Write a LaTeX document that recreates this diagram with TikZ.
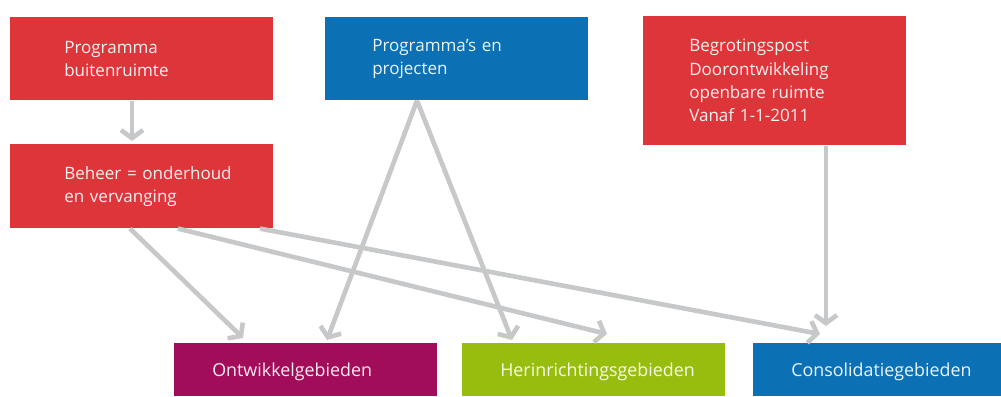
\documentclass[tikz,border=0pt]{standalone}
\usepackage{fontspec}
\setmainfont{Open Sans}
\usetikzlibrary{arrows.meta,calc}
\definecolor{cred}{HTML}{DE353B}
\definecolor{cblue}{HTML}{0C71B4}
\definecolor{cmag}{HTML}{A20D5A}
\definecolor{cgreen}{HTML}{97BE0E}
\definecolor{cgray}{HTML}{C7C8CA}
\tikzset{
  box/.style={anchor=north west, inner ysep=0pt, align=left, text=white, text opacity=0.92},
  topbox/.style={box, minimum width=6.575cm, font=\fontsize{12.1}{16.6}\selectfont},
  botbox/.style={box, minimum height=1.325cm, inner xsep=0.95cm, text depth=0pt,
    font=\fontsize{12.7}{16}\selectfont},
  arr/.style={draw=cgray, line width=3.3pt, line cap=butt,
    -{Straight Barb[length=0.2cm,width=0.55cm]}}
}
\begin{document}
\begin{tikzpicture}[x=0.025cm,y=-0.025cm]
\useasboundingbox (0,0) rectangle (1001,396);
% boxes
\node[topbox, fill=cred, minimum height=2.075cm, inner xsep=1.35cm, text width=3.875cm] (pb) at (10,17) {Programma\\buitenruimte};
\node[topbox, fill=cred, minimum height=2.1cm, inner xsep=1.35cm, text width=3.875cm] (bh) at (10,144) {\mbox{Beheer = onderhoud}\\en vervanging};
\node[topbox, fill=cblue, minimum height=2.075cm, inner xsep=1.175cm, text width=4.225cm] (pp) at (325,17) {Programma’s en\\projecten};
\node[topbox, fill=cred, minimum height=3.225cm, inner xsep=1.15cm, text width=4.275cm] (bg) at (643,16) {Begrotingspost\\Doorontwikkeling\\openbare ruimte\\Vanaf 1-1-2011};
\node[botbox, fill=cmag, text width=4.675cm] (on) at (174,343) {Ontwikkelgebieden};
\node[botbox, fill=cgreen, text width=4.675cm] (he) at (462,343) {Herinrichtingsgebieden};
\node[botbox, fill=cblue, text width=4.3cm] (co) at (753,343) {\mbox{Consolidatiegebieden}};
% connector end points
\coordinate (t1) at ($(bh.north west)+(122,-3)$);
\coordinate (t2) at ($(on.north west)+(69,-5)$);
\coordinate (t3) at ($(on.north west)+(153,-3)$);
\coordinate (t4) at ($(he.north west)+(50,-3)$);
\coordinate (t5) at ($(he.north west)+(145,-9)$);
\coordinate (t6) at ($(co.north west)+(67,-9)$);
\coordinate (t7) at ($(co.north west)+(73,-17)$);
% connectors
\draw[arr] ($(pb.south west)+(122,0)$) -- (t1);
\draw[arr] ($(bh.south west)+(120,0)$) -- (t2);
\draw[arr] ($(bh.south west)+(168,0)$) -- (t5);
\draw[arr] ($(bh.south west)+(250,0)$) -- (t6);
\draw[arr] ($(pp.south west)+(92,0)$) -- (t3);
\draw[arr] ($(pp.south west)+(92,0)$) -- (t4);
\draw[arr] ($(bg.south west)+(183,0)$) -- (t7);
\end{tikzpicture}
\end{document}
